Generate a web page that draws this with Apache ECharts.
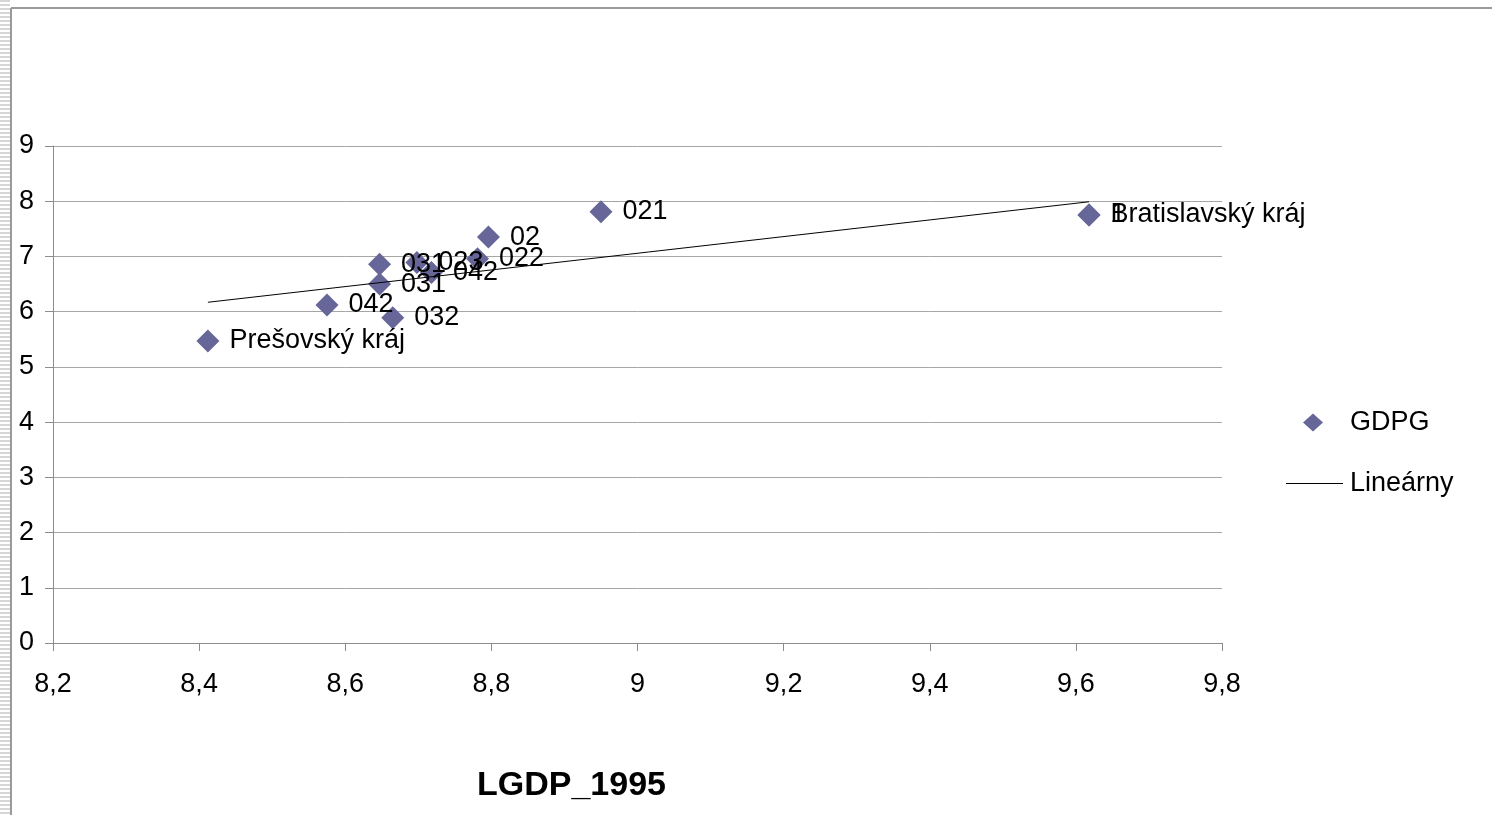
<!DOCTYPE html>
<html>
<head>
<meta charset="utf-8">
<script src="https://cdn.jsdelivr.net/npm/echarts@6/dist/echarts.min.js"></script>
<style>
html,body{margin:0;padding:0;background:#fff;}
#c{width:1492px;height:815px;}
</style>
</head>
<body>
<div id="c"></div>
<script>
// Data
const pointNames = ['Prešovský kráj', '042', '031', '031', '032', '023', '042', '022', '02', '021', '1', 'Bratislavský kráj'];
const lgdp1995 = [8.412, 8.575, 8.647, 8.647, 8.665, 8.698, 8.718, 8.781, 8.796, 8.950, 9.618, 9.618];
const gdpg = [5.47, 6.12, 6.86, 6.50, 5.89, 6.89, 6.71, 6.96, 7.35, 7.81, 7.75, 7.75];
const trendX = [8.412, 9.618];
const trendY = [6.17, 7.99];
const xTicks = { min: 8.2, max: 9.8, step: 0.2 };
const yTicks = { min: 0, max: 9, step: 1 };

const FONT = 'Liberation Sans, Arial, sans-serif';
const fmt = v => String(Math.round(v * 10) / 10).replace('.', ',');

const scatterData = pointNames.map((n, i) => ({ name: n, value: [lgdp1995[i], gdpg[i]] }));
const trendData = trendX.map((x, i) => [x, trendY[i]]);

const chart = echarts.init(document.getElementById('c'), null, { renderer: 'canvas' });
chart.setOption({
  animation: false,
  backgroundColor: '#ffffff',
  textStyle: { fontFamily: FONT },
  grid: { left: 53, right: 270, top: 146, bottom: 172, containLabel: false },
  title: {
    text: 'LGDP_1995',
    left: 477, top: 769, padding: 0,
    textStyle: { fontFamily: FONT, fontSize: 34, fontWeight: 'bold', color: '#000' }
  },
  legend: [
    {
      data: [{ name: 'GDPG', icon: 'diamond' }],
      left: 1303, top: 409, padding: 0,
      itemWidth: 20, itemHeight: 18,
      itemStyle: { color: '#666699', opacity: 1 },
      textStyle: { fontFamily: FONT, fontSize: 27, color: '#000', padding: [0, 0, 0, 22] }
    },
    {
      data: [{ name: 'Lineárny', icon: 'rect' }],
      left: 1286, top: 470, padding: 0,
      itemWidth: 57, itemHeight: 1,
      itemStyle: { color: '#000' },
      textStyle: { fontFamily: FONT, fontSize: 27, color: '#000', padding: [0, 0, 0, 2] }
    }
  ],
  xAxis: {
    type: 'value', min: xTicks.min, max: xTicks.max, interval: xTicks.step,
    axisLine: { show: true, lineStyle: { color: '#8c8c8c', width: 1 } },
    axisTick: { show: true, length: 8, lineStyle: { color: '#8c8c8c' } },
    axisLabel: { formatter: fmt, fontFamily: FONT, fontSize: 27, color: '#000', margin: 28 },
    splitLine: { show: false }
  },
  yAxis: {
    type: 'value', min: yTicks.min, max: yTicks.max, interval: yTicks.step,
    axisLine: { show: true, lineStyle: { color: '#8c8c8c', width: 1 } },
    axisTick: { show: true, length: 8, lineStyle: { color: '#8c8c8c' } },
    axisLabel: { formatter: fmt, fontFamily: FONT, fontSize: 27, color: '#000', margin: 19 },
    splitLine: { show: true, lineStyle: { color: '#a6a6a6', width: 1 } }
  },
  series: [
    {
      name: 'GDPG', type: 'scatter', symbol: 'diamond', symbolSize: 23,
      itemStyle: { color: '#666699', opacity: 1 },
      data: scatterData,
      label: {
        show: true, position: 'right', distance: 10,
        formatter: p => p.name,
        fontFamily: FONT, fontSize: 27, color: '#000'
      },
      labelLayout: { hideOverlap: false },
      z: 3
    },
    {
      name: 'Lineárny', type: 'line', symbol: 'none', showSymbol: false,
      data: trendData,
      lineStyle: { color: '#000', width: 1 },
      itemStyle: { color: '#000' },
      silent: true, z: 4
    }
  ],
  graphic: [
    { type: 'line', shape: { x1: 5, y1: 0, x2: 5, y2: 815 }, style: { stroke: '#d6d6d6', lineWidth: 10, lineDash: [2, 2] }, silent: true },
    { type: 'line', shape: { x1: 11, y1: 8, x2: 11, y2: 815 }, style: { stroke: '#9a9a9a', lineWidth: 2 }, silent: true },
    { type: 'line', shape: { x1: 11, y1: 8, x2: 1492, y2: 8 }, style: { stroke: '#9a9a9a', lineWidth: 2 }, silent: true }
  ]
});
</script>
</body>
</html>
